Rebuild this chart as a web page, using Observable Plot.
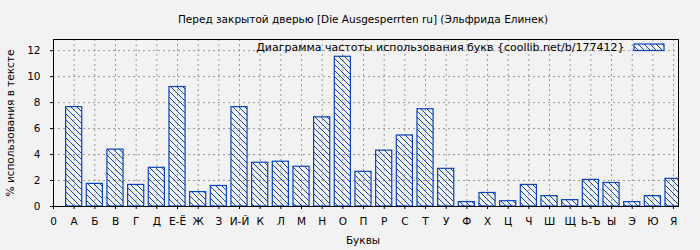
<!DOCTYPE html>
<html><head><meta charset="utf-8">
<script src="https://cdn.jsdelivr.net/npm/d3@7"></script>
<script src="https://cdn.jsdelivr.net/npm/@observablehq/plot@0.6"></script>
<style>
html,body{margin:0;padding:0;background:#f2f2f2;}
</style></head><body><div id="chart"></div>
<script>
const letters = ["А","Б","В","Г","Д","Е-Ё","Ж","З","И-Й","К","Л","М","Н","О","П","Р","С","Т","У","Ф","Х","Ц","Ч","Ш","Щ","Ь-Ъ","Ы","Э","Ю","Я"];
const tickLabels = ["0"].concat(letters);
const percents = [7.65,1.74,4.38,1.66,2.98,9.20,1.11,1.58,7.65,3.37,3.45,3.06,6.87,11.53,2.67,4.30,5.47,7.49,2.90,0.34,1.04,0.41,1.66,0.80,0.49,2.05,1.81,0.34,0.80,2.13];
const yTicks = [0,2,4,6,8,10,12];
const titleText = "Перед закрытой дверью [Die Ausgesperrten ru] (Эльфрида Елинек)";
const legendLabel = "Диаграмма частоты использования букв {coollib.net/b/177412}";
const xLabel = "Буквы";
const yLabel = "% использования в тексте";

const data = letters.map((l, i) => ({pos: i + 1, letter: l, value: percents[i]}));
const blue = "#0a45b8";
const halfBar = 0.39;
const W = 700, H = 250, mL = 53, mR = 22, mT = 39, mB = 44;
const font = "DejaVu Sans, sans-serif";

const chart = Plot.plot({
  width: W, height: H,
  marginLeft: mL, marginRight: mR, marginTop: mT, marginBottom: mB,
  style: {background: "#f2f2f2", fontFamily: font, fontSize: "10.5px", color: "#000", overflow: "visible"},
  x: {type: "linear", domain: [0, 30.24]},
  y: {domain: [0, 12.86]},
  marks: [
    Plot.gridX(d3.range(1, tickLabels.length), {stroke: "#999", strokeOpacity: 1, strokeDasharray: "2,3"}),
    Plot.gridY(yTicks.slice(1), {stroke: "#999", strokeOpacity: 1, strokeDasharray: "2,3"}),
    Plot.rectY(data, {x1: d => d.pos - halfBar, x2: d => d.pos + halfBar, y1: 0, y2: "value",
      fill: "url(#hatch)", stroke: blue, strokeWidth: 1.2, clip: true}),
    Plot.frame({stroke: "#000", strokeWidth: 1}),
    Plot.axisX(d3.range(0, tickLabels.length), {tickFormat: i => tickLabels[i], tickSize: 3, tickPadding: 8, label: null, fontSize: 10.5}),
    Plot.axisY(yTicks, {tickSize: 3, tickPadding: 10, label: null, fontSize: 10.5}),
    Plot.text([titleText], {frameAnchor: "top", dx: -3, dy: -20, fontSize: 10.5, textAnchor: "middle", lineAnchor: "middle"}),
    Plot.text([legendLabel], {frameAnchor: "top-right", dx: -54, dy: 8, fontSize: 11, textAnchor: "end", lineAnchor: "middle"}),
    Plot.text([xLabel], {frameAnchor: "bottom", dx: -3, dy: 34, fontSize: 10.5, textAnchor: "middle", lineAnchor: "middle"}),
    Plot.text([yLabel], {frameAnchor: "left", dx: -43, rotate: -90, fontSize: 10.5, textAnchor: "middle", lineAnchor: "middle"})
  ]
});

// hatch pattern + legend swatch
const svg = d3.select(chart);
const defs = svg.insert("defs", ":first-child");
const pat = defs.append("pattern").attr("id", "hatch").attr("patternUnits", "userSpaceOnUse")
  .attr("width", 6).attr("height", 6);
pat.append("path").attr("d", "M-1,-1L7,7M-1,5L1,7M5,-1L7,1")
  .attr("stroke", blue).attr("stroke-width", 1).attr("fill", "none");
svg.append("rect")
  .attr("x", W - mR - 44).attr("y", mT + 5).attr("width", 30).attr("height", 6.5)
  .attr("fill", "url(#hatch)").attr("stroke", blue).attr("stroke-width", 1.2);

document.getElementById("chart").appendChild(chart);
</script>
</body></html>
